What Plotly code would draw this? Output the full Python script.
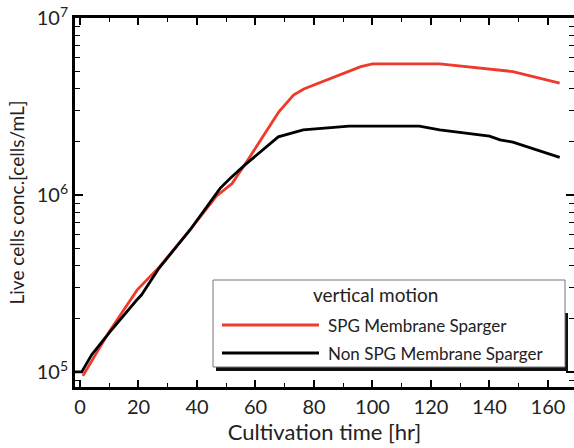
import plotly.graph_objects as go

# ---------------------------------------------------------------- data
spg_time = [1, 10, 19.5, 27, 37.5, 46.5, 52, 57, 68, 73, 76.5, 96, 100, 123, 148, 164]
spg_cells = [9.5e4, 1.69e5, 2.9e5, 3.9e5, 6.3e5, 9.8e5, 1.16e6, 1.54e6, 2.95e6, 3.67e6, 3.97e6,
             5.31e6, 5.5e6, 5.5e6, 4.98e6, 4.28e6]

non_time = [-2, 0.6, 4, 10.3, 19.4, 21, 27, 37.6, 47.9, 51.3, 56.4, 67.8, 76.3, 92, 116, 123,
            140, 143.6, 148, 164]
non_cells = [1e5, 1e5, 1.25e5, 1.69e5, 2.55e5, 2.72e5, 3.85e5, 6.34e5, 1.09e6, 1.24e6, 1.48e6,
             2.13e6, 2.33e6, 2.45e6, 2.45e6, 2.33e6, 2.15e6, 2.05e6, 1.99e6, 1.63e6]

series_names = ["SPG Membrane Sparger", "Non SPG Membrane Sparger"]
series_colors = ["#ee3a2a", "#000000"]
legend_title = "vertical motion"

y_tickvals = [1e5, 1e6, 1e7]
y_ticktext = ["10<sup>5</sup>", "10<sup>6</sup>", "10<sup>7</sup>"]

# ---------------------------------------------------------------- figure
W, H = 574, 448
ml, mr, mt, mb = 75, 0, 18, 61
pw, ph = W - ml - mr, H - mt - mb
font_family = "Lato, Open Sans, sans-serif"


def px2paper(x, y):
    return (x - ml) / pw, (H - mb - y) / ph


fig = go.Figure()
fig.add_trace(go.Scatter(x=spg_time, y=spg_cells, mode="lines", name=series_names[0],
                         line=dict(color=series_colors[0], width=2.8)))
fig.add_trace(go.Scatter(x=non_time, y=non_cells, mode="lines", name=series_names[1],
                         line=dict(color=series_colors[1], width=2.8)))

# hand-drawn legend box (with drop shadow) to match the original
shapes = []
x0, y0 = px2paper(216, 371)
x1, y1 = px2paper(568, 313)
shapes.append(dict(type="rect", xref="paper", yref="paper", x0=x0, y0=y0, x1=x1, y1=y1,
                   fillcolor="#111111", line=dict(width=0), layer="above"))
x0, y0 = px2paper(213, 367)
x1, y1 = px2paper(565, 280)
shapes.append(dict(type="rect", xref="paper", yref="paper", x0=x0, y0=y0, x1=x1, y1=y1,
                   fillcolor="white", line=dict(color="#777777", width=1), layer="above"))
annotations = []
tx, ty = px2paper(375, 294)
annotations.append(dict(xref="paper", yref="paper", x=tx, y=ty, text=legend_title, showarrow=False,
                        xanchor="center", yanchor="middle", font=dict(size=19, color="#222222")))
for i, ypix in enumerate([325, 353]):
    lx0, ly = px2paper(222, ypix)
    lx1, _ = px2paper(319, ypix)
    shapes.append(dict(type="line", xref="paper", yref="paper", x0=lx0, x1=lx1, y0=ly, y1=ly,
                       line=dict(color=series_colors[i], width=2.8), layer="above"))
    ax, _ = px2paper(326, ypix)
    annotations.append(dict(xref="paper", yref="paper", x=ax, y=ly, text=series_names[i],
                            showarrow=False, xanchor="left", yanchor="middle",
                            font=dict(size=17, color="#222222")))

fig.update_layout(
    width=W, height=H,
    margin=dict(l=ml, r=mr, t=mt, b=mb, autoexpand=False),
    paper_bgcolor="white", plot_bgcolor="white",
    font=dict(family=font_family, size=19, color="#222222"),
    showlegend=False,
    shapes=shapes,
    annotations=annotations,
)

fig.update_xaxes(
    range=[-1.7, 168.9], tickmode="linear", tick0=0, dtick=20,
    ticks="inside", ticklen=7, tickwidth=1.5, tickcolor="black",
    minor=dict(dtick=10, ticks="inside", ticklen=4, tickwidth=1.2, tickcolor="black"),
    showline=True, linewidth=3, linecolor="black", mirror="allticks",
    showgrid=False, zeroline=False, automargin=True,
    title=dict(text="Cultivation time [hr]", font=dict(size=22), standoff=4),
    tickfont=dict(size=20),
)
fig.update_yaxes(
    type="log", range=[4.915, 7.0],
    tickvals=y_tickvals, ticktext=y_ticktext,
    ticks="inside", ticklen=8, tickwidth=1.5, tickcolor="black",
    minor=dict(dtick="D1", ticks="inside", ticklen=5, tickwidth=1.2, tickcolor="black"),
    showline=True, linewidth=3, linecolor="black", mirror="allticks",
    showgrid=False, zeroline=False, automargin=True,
    title=dict(text="Live cells conc.[cells/mL]", font=dict(size=19), standoff=8),
    tickfont=dict(size=20),
)

# the page body has an 8px default margin; drop it so the figure sits at the window corner
fig.write_html("out.html", config={"displayModeBar": False},
               post_script="document.body.style.margin='0';")
